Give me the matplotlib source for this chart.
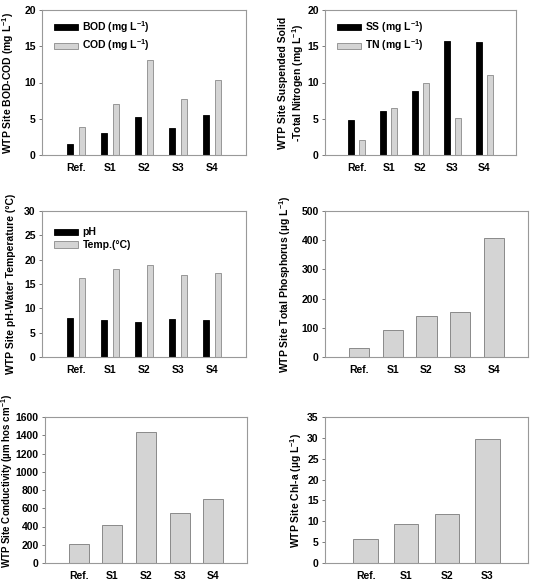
import matplotlib
matplotlib.use("Agg")
import matplotlib.pyplot as plt
import numpy as np

plt.rcParams['font.family'] = ['Liberation Sans', 'DejaVu Sans']
plt.rcParams['font.weight'] = 'bold'
plt.rcParams['axes.labelweight'] = 'bold'
plt.rcParams['mathtext.fontset'] = 'custom'
plt.rcParams['mathtext.rm'] = 'Liberation Sans:bold'
plt.rcParams['mathtext.bf'] = 'Liberation Sans:bold'
plt.rcParams['mathtext.default'] = 'bf'

# site data
sites = ["Ref.", "S1", "S2", "S3", "S4"]
bod = [1.5, 3.1, 5.3, 3.7, 5.5]
cod = [3.8, 7.0, 13.1, 7.7, 10.3]
ss = [4.8, 6.1, 8.85, 15.7, 15.6]
tn = [2.1, 6.5, 9.9, 5.1, 11.0]
ph = [7.95, 7.7, 7.25, 7.8, 7.55]
temp = [16.2, 18.1, 19.0, 16.8, 17.2]
tp = [32, 91, 139, 155, 409]
cond = [205, 411, 1435, 550, 697]
chl_sites = ["Ref.", "S1", "S2", "S3"]
chl = [5.8, 9.4, 11.8, 29.8]

W, H = 534, 583
BLACK = "black"
GREY = "#d4d4d4"
EDGE = "#8a8a8a"


def make_ax(fig, x0, x1, y0, y1):
    """axes from pixel box (top-left origin)"""
    ax = fig.add_axes([x0 / W, (H - y1) / H, (x1 - x0) / W, (y1 - y0) / H])
    for s in ax.spines.values():
        s.set_color("#999999")
        s.set_linewidth(0.8)
    ax.tick_params(axis="y", labelsize=7.5, length=2.5, width=0.6, color="#666666", pad=2)
    ax.tick_params(axis="x", labelsize=7.5, length=0, pad=6)
    return ax


def pair_plot(ax, a, b, la, lb, ymax, step, ylabel, leg_anchor, lpad=6):
    x = np.arange(1, len(sites) + 1)
    ax.bar(x - 0.17, a, width=0.19, color=BLACK, edgecolor=BLACK, linewidth=0.6, label=la)
    ax.bar(x + 0.17, b, width=0.19, color=GREY, edgecolor=EDGE, linewidth=0.6, label=lb)
    ax.set_xlim(0, len(sites) + 1)
    ax.set_ylim(0, ymax)
    ax.set_yticks(np.arange(0, ymax + 0.1, step))
    ax.set_xticks(x)
    ax.set_xticklabels(sites)
    ax.set_ylabel(ylabel, fontsize=7.5, labelpad=lpad)
    ax.legend(loc="upper left", bbox_to_anchor=leg_anchor, frameon=False, fontsize=7.5,
              handlelength=2.3, handleheight=0.55, handletextpad=0.4, labelspacing=0.25,
              borderaxespad=0.2)


def single_plot(ax, labels, vals, ymax, step, ylabel, lpad=6):
    x = np.arange(1, len(labels) + 1)
    ax.bar(x, vals, width=0.6, color=GREY, edgecolor=EDGE, linewidth=0.7)
    ax.set_xlim(0, len(labels) + 1)
    ax.set_ylim(0, ymax)
    ax.set_yticks(np.arange(0, ymax + 0.1, step))
    ax.set_xticks(x)
    ax.set_xticklabels(labels)
    ax.set_ylabel(ylabel, fontsize=7.5, labelpad=lpad)


fig = plt.figure(figsize=(W / 100, H / 100), dpi=100)

ax1 = make_ax(fig, 42, 246, 10, 155)
pair_plot(ax1, bod, cod, r"BOD (mg L$^{-1}$)", r"COD (mg L$^{-1}$)", 20, 5,
          r"WTP Site BOD-COD (mg L$^{-1}$)", (0.03, 0.98))

ax2 = make_ax(fig, 325, 516, 10, 155)
pair_plot(ax2, ss, tn, r"SS (mg L$^{-1}$)", r"TN (mg L$^{-1}$)", 20, 5,
          "WTP Site Suspended Solid\n" + r"-Total Nitrogen (mg L$^{-1}$)", (0.03, 0.98), lpad=1)

ax3 = make_ax(fig, 42, 246, 211, 357)
pair_plot(ax3, ph, temp, "pH", "Temp.(°C)", 30, 5,
          "WTP Site pH-Water Temperature (°C)", (0.03, 0.93))

ax4 = make_ax(fig, 325, 528, 211, 357)
single_plot(ax4, sites, tp, 500, 100, r"WTP Site Total Phosphorus (µg L$^{-1}$)")

ax5 = make_ax(fig, 45, 247, 417, 563)
single_plot(ax5, sites, cond, 1600, 200, r"WTP Site Conductivity (µm hos cm$^{-1}$)")
# long label: keep it inside the figure, it runs above the axes like the original
ax5.yaxis.label.set_fontsize(7)
ax5.yaxis.set_label_coords(-0.15, 0.56)

ax6 = make_ax(fig, 325, 528, 417, 563)
single_plot(ax6, chl_sites, chl, 35, 5, r"WTP Site Chl-a (µg L$^{-1}$)", lpad=2)

fig.savefig("out.png", dpi=100)
